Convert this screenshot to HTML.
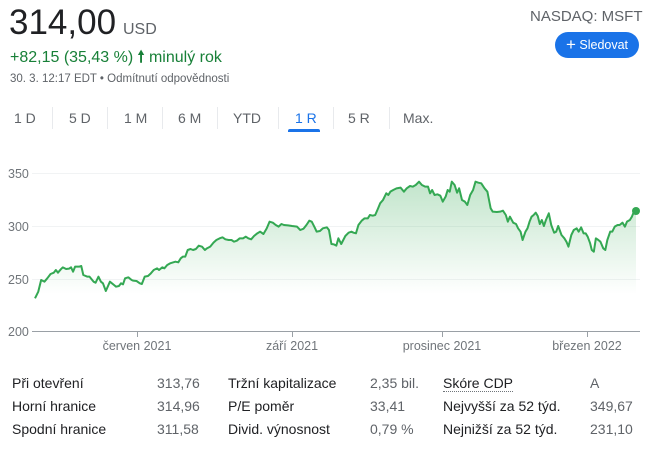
<!DOCTYPE html><html><head><meta charset="utf-8"><style>
body{margin:0;width:650px;height:449px;background:#fff;font-family:"Liberation Sans",Arial,sans-serif;position:relative;overflow:hidden;color:#202124}
.a{position:absolute;white-space:nowrap}
.tab{position:absolute;top:110px;font-size:14px;color:#5f6368}
.sep{position:absolute;top:107px;width:1px;height:22px;background:#e8eaed}
.t{font-size:14px;color:#202124}.v{font-size:14px;color:#5f6368}
</style></head><body>
<div class="a" style="left:9px;top:3px;font-size:35px;color:#202124">314,00</div>
<div class="a" style="left:123px;top:21px;font-size:16px;color:#5f6368">USD</div>
<div class="a" style="left:10px;top:46px;font-size:16px;color:#188038">+82,15 (35,43 %) <span style="font-weight:bold">&#129045;</span> minulý rok</div>
<div class="a" style="left:10px;top:73px;font-size:11.5px;color:#5f6368">30. 3. 12:17 EDT • Odmítnutí odpovědnosti</div>
<div class="a" style="left:530px;top:8px;font-size:15px;color:#5f6368">NASDAQ: MSFT</div>
<div class="a" style="left:555px;top:32px;width:84px;height:26px;border-radius:13px;background:#1a73e8;color:#fff;font-size:12.5px;line-height:26px;text-align:center"><span style="font-size:17px;vertical-align:-1px">+</span> Sledovat</div>
<div class="tab" style="left:14px">1 D</div><div class="sep" style="left:52px"></div>
<div class="tab" style="left:69px">5 D</div><div class="sep" style="left:107px"></div>
<div class="tab" style="left:124px">1 M</div><div class="sep" style="left:162px"></div>
<div class="tab" style="left:178px">6 M</div><div class="sep" style="left:217px"></div>
<div class="tab" style="left:233px">YTD</div><div class="sep" style="left:278px"></div>
<div class="tab" style="left:295px;color:#1a73e8">1 R</div><div class="sep" style="left:333px"></div>
<div class="a" style="left:288px;top:129px;width:32px;height:3px;border-radius:2px 2px 0 0;background:#1a73e8"></div>
<div class="tab" style="left:348px">5 R</div><div class="sep" style="left:389px"></div>
<div class="tab" style="left:403px">Max.</div>
<svg class="a" style="left:0;top:0" width="650" height="449">
<defs><linearGradient id="g" x1="0" y1="0" x2="0" y2="1"><stop offset="0" stop-color="#34a853" stop-opacity=".3"/><stop offset=".75" stop-color="#34a853" stop-opacity="0"/></linearGradient></defs>
<g stroke="#f1f3f4" stroke-width="1"><line x1="32" y1="173.5" x2="640" y2="173.5"/><line x1="32" y1="226.5" x2="640" y2="226.5"/><line x1="32" y1="279.5" x2="640" y2="279.5"/></g>
<line x1="32" y1="331.5" x2="640" y2="331.5" stroke="#9aa0a6" stroke-width="1"/>
<g stroke="#9aa0a6"><line x1="137.5" y1="331" x2="137.5" y2="337"/><line x1="292.5" y1="331" x2="292.5" y2="337"/><line x1="442.5" y1="331" x2="442.5" y2="337"/><line x1="587.5" y1="331" x2="587.5" y2="337"/></g>
<g font-size="12.5" fill="#70757a" font-family="Liberation Sans,Arial,sans-serif"><text x="8" y="178">350</text><text x="8" y="231">300</text><text x="8" y="284">250</text><text x="8" y="336">200</text>
<text x="137" y="350" text-anchor="middle">červen 2021</text><text x="292" y="350" text-anchor="middle">září 2021</text><text x="442" y="350" text-anchor="middle">prosinec 2021</text><text x="587" y="350" text-anchor="middle">březen 2022</text></g>
<g transform="translate(1.43,150) scale(0.4094,0.33333)">
<polygon fill="url(#g)" points="82,545 82,445 90,425 97,390 105,395 112,385 120,372 128,368 133,360 138,368 145,358 150,352 158,357 165,356 170,352 175,365 180,350 190,350 195,348 200,375 210,380 215,380 225,395 230,398 237,380 243,395 248,400 255,423 265,395 275,405 280,410 287,408 292,400 297,403 302,385 310,382 318,390 322,392 330,393 338,400 343,402 350,380 358,378 365,370 372,360 380,355 385,360 393,352 398,355 405,345 412,340 420,337 425,335 432,337 438,325 443,320 449,320 455,300 462,297 468,300 475,297 482,287 490,290 497,300 502,295 510,290 518,278 525,270 533,265 540,262 547,268 555,270 562,270 568,275 575,272 582,265 590,265 597,260 603,265 610,268 617,258 625,250 632,245 640,252 648,235 655,215 663,218 670,225 677,230 684,222 690,225 700,226 710,228 722,230 730,240 738,236 745,225 752,212 758,215 765,232 770,245 778,243 785,235 795,232 800,240 806,282 812,283 818,287 823,265 830,282 840,258 848,248 855,245 860,248 866,250 872,225 880,212 887,205 895,205 900,195 907,197 913,195 920,175 925,160 932,150 940,130 945,135 950,125 957,120 965,115 975,113 983,125 990,115 998,108 1005,110 1012,105 1020,95 1027,105 1035,110 1042,110 1047,130 1052,120 1058,135 1065,133 1072,137 1078,155 1085,140 1090,120 1095,125 1100,95 1107,105 1113,128 1118,115 1125,150 1132,155 1138,165 1145,135 1152,120 1158,95 1165,98 1172,100 1180,115 1187,125 1195,175 1200,185 1210,186 1218,185 1225,182 1232,195 1237,215 1242,200 1250,218 1257,222 1262,235 1268,245 1273,270 1280,245 1285,235 1290,215 1295,200 1300,195 1305,188 1310,198 1315,222 1320,210 1325,228 1330,210 1337,190 1343,225 1350,248 1355,245 1360,228 1368,255 1375,265 1380,275 1385,290 1392,255 1398,240 1405,235 1410,245 1416,232 1422,250 1427,250 1432,260 1438,280 1442,300 1447,305 1452,265 1458,270 1463,275 1470,295 1475,300 1480,270 1487,245 1492,245 1498,230 1505,225 1510,225 1517,218 1523,230 1528,215 1535,210 1540,200 1545,185 1550,183 1550,545"/>
<polyline fill="none" stroke="#34a853" stroke-width="2" vector-effect="non-scaling-stroke" stroke-linejoin="round" points="82,445 90,425 97,390 105,395 112,385 120,372 128,368 133,360 138,368 145,358 150,352 158,357 165,356 170,352 175,365 180,350 190,350 195,348 200,375 210,380 215,380 225,395 230,398 237,380 243,395 248,400 255,423 265,395 275,405 280,410 287,408 292,400 297,403 302,385 310,382 318,390 322,392 330,393 338,400 343,402 350,380 358,378 365,370 372,360 380,355 385,360 393,352 398,355 405,345 412,340 420,337 425,335 432,337 438,325 443,320 449,320 455,300 462,297 468,300 475,297 482,287 490,290 497,300 502,295 510,290 518,278 525,270 533,265 540,262 547,268 555,270 562,270 568,275 575,272 582,265 590,265 597,260 603,265 610,268 617,258 625,250 632,245 640,252 648,235 655,215 663,218 670,225 677,230 684,222 690,225 700,226 710,228 722,230 730,240 738,236 745,225 752,212 758,215 765,232 770,245 778,243 785,235 795,232 800,240 806,282 812,283 818,287 823,265 830,282 840,258 848,248 855,245 860,248 866,250 872,225 880,212 887,205 895,205 900,195 907,197 913,195 920,175 925,160 932,150 940,130 945,135 950,125 957,120 965,115 975,113 983,125 990,115 998,108 1005,110 1012,105 1020,95 1027,105 1035,110 1042,110 1047,130 1052,120 1058,135 1065,133 1072,137 1078,155 1085,140 1090,120 1095,125 1100,95 1107,105 1113,128 1118,115 1125,150 1132,155 1138,165 1145,135 1152,120 1158,95 1165,98 1172,100 1180,115 1187,125 1195,175 1200,185 1210,186 1218,185 1225,182 1232,195 1237,215 1242,200 1250,218 1257,222 1262,235 1268,245 1273,270 1280,245 1285,235 1290,215 1295,200 1300,195 1305,188 1310,198 1315,222 1320,210 1325,228 1330,210 1337,190 1343,225 1350,248 1355,245 1360,228 1368,255 1375,265 1380,275 1385,290 1392,255 1398,240 1405,235 1410,245 1416,232 1422,250 1427,250 1432,260 1438,280 1442,300 1447,305 1452,265 1458,270 1463,275 1470,295 1475,300 1480,270 1487,245 1492,245 1498,230 1505,225 1510,225 1517,218 1523,230 1528,215 1535,210 1540,200 1545,185 1550,183"/>
</g>
<circle cx="636" cy="211" r="4" fill="#34a853"/>
</svg>
<div class="a t" style="left:12px;top:375px">Při otevření</div><div class="a v" style="left:157px;top:375px">313,76</div>
<div class="a t" style="left:228px;top:375px">Tržní kapitalizace</div><div class="a v" style="left:370px;top:375px">2,35 bil.</div>
<div class="a t" style="left:443px;top:375px;border-bottom:1px dotted #70757a">Skóre CDP</div><div class="a v" style="left:590px;top:375px">A</div>
<div class="a t" style="left:12px;top:398px">Horní hranice</div><div class="a v" style="left:157px;top:398px">314,96</div>
<div class="a t" style="left:228px;top:398px">P/E poměr</div><div class="a v" style="left:370px;top:398px">33,41</div>
<div class="a t" style="left:443px;top:398px">Nejvyšší za 52 týd.</div><div class="a v" style="left:590px;top:398px">349,67</div>
<div class="a t" style="left:12px;top:421px">Spodní hranice</div><div class="a v" style="left:157px;top:421px">311,58</div>
<div class="a t" style="left:228px;top:421px">Divid. výnosnost</div><div class="a v" style="left:370px;top:421px">0,79 %</div>
<div class="a t" style="left:443px;top:421px">Nejnižší za 52 týd.</div><div class="a v" style="left:590px;top:421px">231,10</div>
</body></html>
